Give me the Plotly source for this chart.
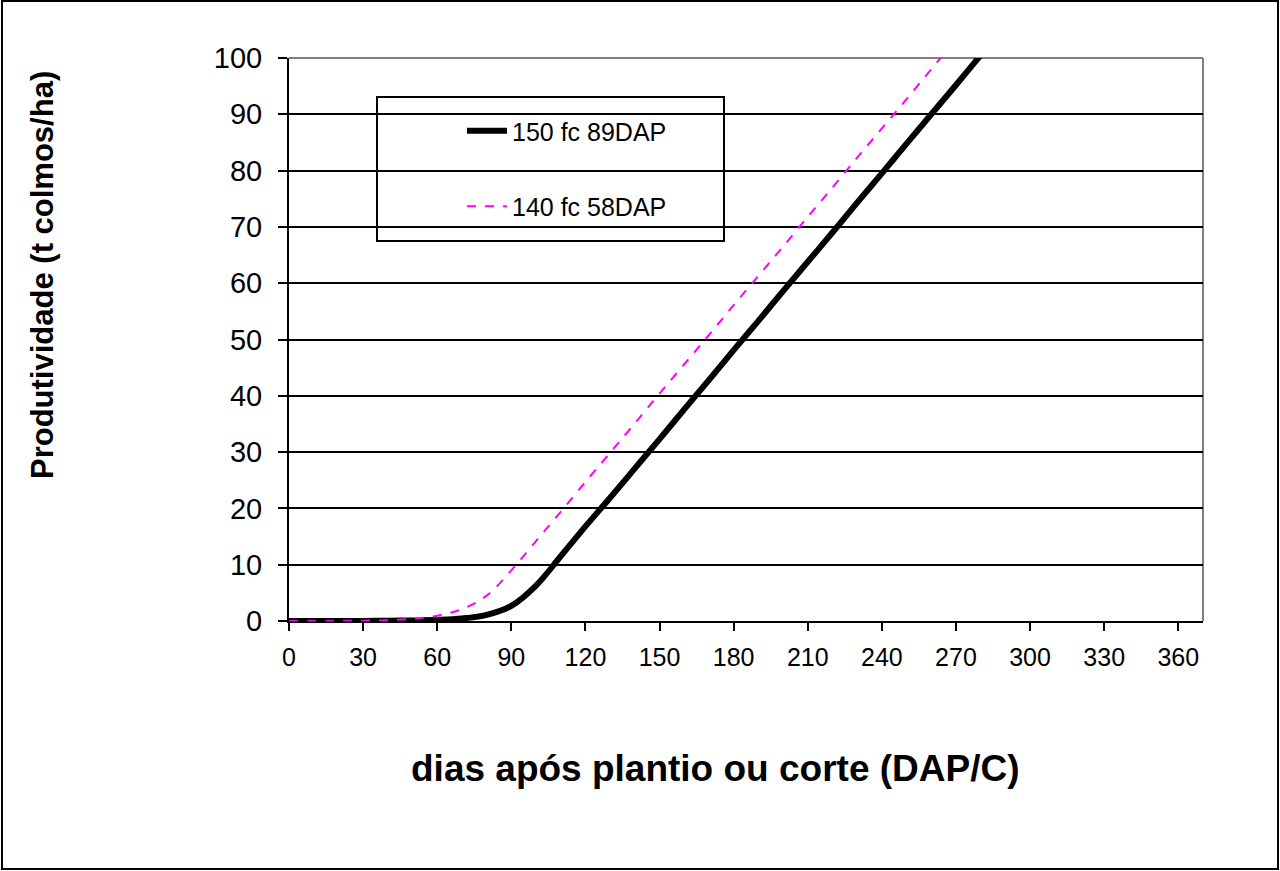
import plotly.graph_objects as go

days = [0, 10, 20, 30, 40, 50, 60, 70, 80, 90, 100, 110, 120, 130, 140, 150, 160, 170,
        180, 190, 200, 210, 220, 230, 240, 250, 260, 270, 280, 290]
prod_150fc_89dap = [0.0, 0.0, 0.0, 0.0, 0.05, 0.1, 0.2, 0.45, 1.1, 2.7, 6.3, 11.5, 16.8, 21.9,
                    27.1, 32.3, 37.6, 42.8, 48.1, 53.3, 58.6, 63.8, 69.0, 74.3, 79.5, 84.8,
                    90.0, 95.2, 100.5, 105.7]
prod_140fc_58dap = [0.0, 0.0, 0.02, 0.05, 0.15, 0.4, 0.95, 2.1, 4.5, 9.0, 14.2, 19.4, 24.7,
                    29.9, 35.1, 40.4, 45.6, 50.8, 56.1, 61.3, 66.5, 71.8, 77.0, 82.3, 87.5,
                    92.7, 98.0, 103.2, 108.4, 113.6]

x_ticks = [0, 30, 60, 90, 120, 150, 180, 210, 240, 270, 300, 330, 360]
y_ticks = [0, 10, 20, 30, 40, 50, 60, 70, 80, 90, 100]

x_title = "dias após plantio ou corte (DAP/C)"
y_title = "Produtividade (t colmos/ha)"

FONT = "Arial, Liberation Sans, sans-serif"

fig = go.Figure()
fig.add_trace(go.Scatter(
    x=days, y=prod_150fc_89dap, mode="lines", name="150 fc 89DAP",
    line=dict(color="black", width=6, shape="spline", smoothing=1.0),
    legendgroup="a",
))
fig.add_trace(go.Scatter(
    x=days, y=prod_140fc_58dap, mode="lines", name="140 fc 58DAP",
    line=dict(color="#FF00FF", width=2, dash="dash", shape="spline", smoothing=1.0),
    legendgroup="b",
))

L, R, T, B = 289, 77, 58, 250
W, H = 1280, 871
pw, ph = W - L - R, H - T - B

def px_x(p):
    return (p - L) / pw

def px_y(p):
    return (H - B - p) / ph

shapes = [
    # outer frame
    dict(type="rect", xref="paper", yref="paper",
         x0=px_x(2), x1=px_x(1278), y0=px_y(869), y1=px_y(1),
         line=dict(color="black", width=2), fillcolor="rgba(0,0,0,0)", layer="above"),
    # gray top and right borders of plot area
    dict(type="line", xref="paper", yref="paper", x0=0, x1=1, y0=1, y1=1,
         line=dict(color="#808080", width=2), layer="between"),
    dict(type="line", xref="paper", yref="paper", x0=1, x1=1, y0=0, y1=1,
         line=dict(color="#808080", width=2), layer="between"),
    # legend box
    dict(type="rect", xref="paper", yref="paper",
         x0=px_x(377), x1=px_x(724), y0=px_y(241), y1=px_y(97),
         line=dict(color="black", width=2), fillcolor="white", layer="between"),
]

annotations = [
    dict(text=f"<b>{x_title}</b>", xref="paper", yref="paper",
         x=px_x(715), y=px_y(768), xanchor="center", yanchor="middle",
         showarrow=False, font=dict(size=37, family=FONT, color="black")),
    dict(text=f"<b>{y_title}</b>", xref="paper", yref="paper",
         x=px_x(42), y=px_y(275), xanchor="center", yanchor="middle",
         textangle=-90, showarrow=False,
         font=dict(size=31, family=FONT, color="black")),
]

fig.update_layout(
    width=W, height=H,
    margin=dict(l=L, r=R, t=T, b=B),
    paper_bgcolor="white", plot_bgcolor="white",
    font=dict(family=FONT, color="black"),
    shapes=shapes,
    annotations=annotations,
    showlegend=True,
    legend=dict(
        x=px_x(462), y=px_y(108), xanchor="left", yanchor="top",
        bgcolor="rgba(0,0,0,0)", borderwidth=0,
        font=dict(size=25, family=FONT, color="black"),
        tracegroupgap=40, itemwidth=40,
    ),
    xaxis=dict(
        range=[0, 370], tickmode="array", tickvals=x_ticks,
        ticktext=[str(v) for v in x_ticks],
        showgrid=False, zeroline=False,
        showline=True, linecolor="black", linewidth=2,
        ticks="outside", ticklen=8, tickwidth=2, tickcolor="black",
        tickfont=dict(size=25, family=FONT, color="black"),
        ticklabelstandoff=5,
    ),
    yaxis=dict(
        range=[0, 100], tickmode="array", tickvals=y_ticks,
        ticktext=[str(v) for v in y_ticks],
        showgrid=True, gridcolor="black", gridwidth=2,
        zeroline=False,
        showline=True, linecolor="black", linewidth=2,
        ticks="outside", ticklen=9, tickwidth=2, tickcolor="black",
        tickfont=dict(size=29, family=FONT, color="black"),
        ticklabelstandoff=10,
    ),
)

fig.write_html("out.html", config={"displayModeBar": False},
               post_script="document.body.style.margin='0';")
